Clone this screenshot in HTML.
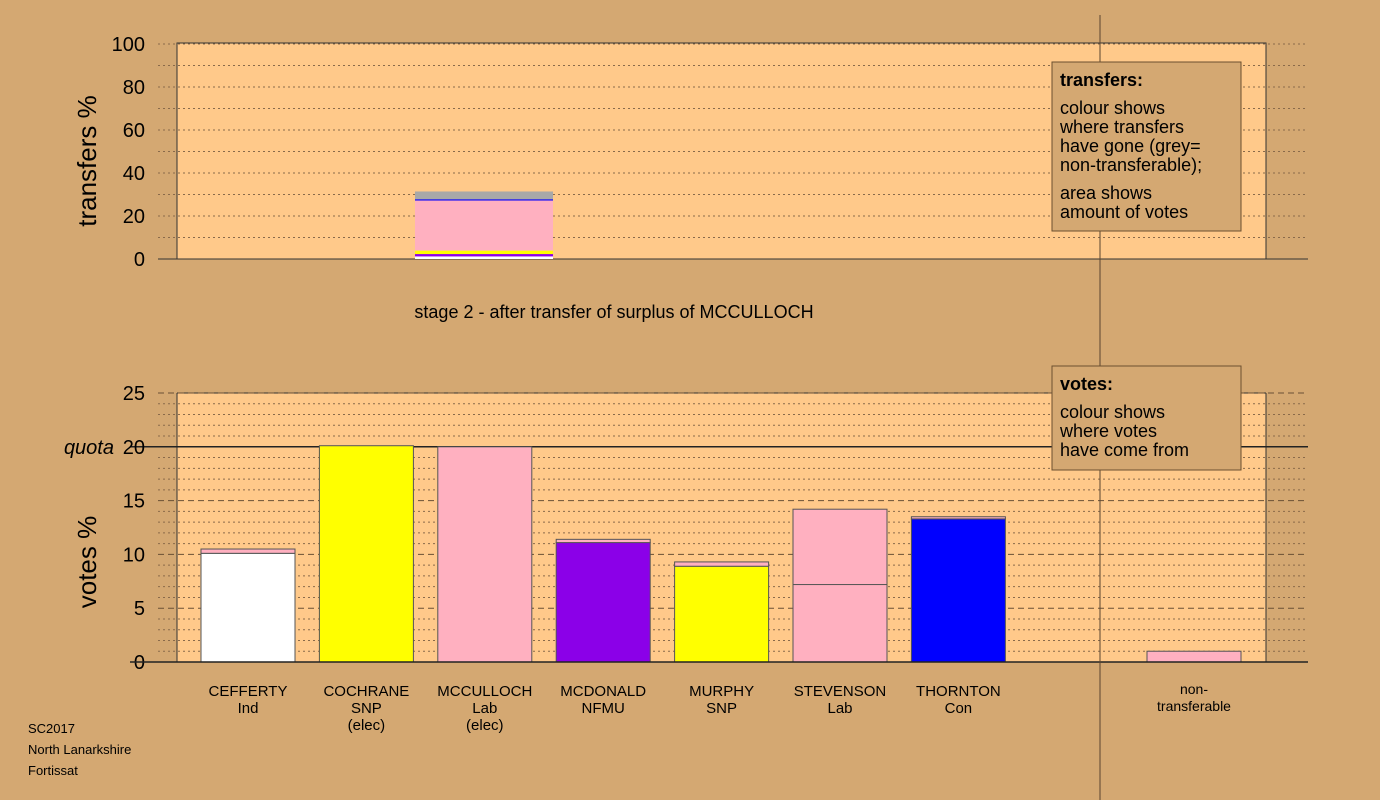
<!DOCTYPE html>
<html><head><meta charset="utf-8"><style>
body{margin:0;background:#d4a872;}
svg{display:block;font-family:"Liberation Sans",sans-serif;}
</style></head><body>
<svg id="c" width="1380" height="800" xmlns="http://www.w3.org/2000/svg">
<rect width="1380" height="800" fill="#d4a872"/>
<g id="topG"></g>
<g id="botG"></g>
<text x="614" y="318" font-size="18" text-anchor="middle" fill="#000">stage 2 - after transfer of surplus of MCCULLOCH</text>
<text x="96" y="161" font-size="26" text-anchor="middle" transform="rotate(-90 96 161)">transfers %</text>
<text x="96" y="562" font-size="26" text-anchor="middle" transform="rotate(-90 96 562)">votes %</text>
<text x="28" y="733" font-size="13">SC2017</text>
<text x="28" y="754" font-size="13">North Lanarkshire</text>
<text x="28" y="775" font-size="13">Fortissat</text>
<line x1="1100" y1="15" x2="1100" y2="800" stroke="#5a4530" stroke-width="1"/>
<g>
<rect x="1052" y="62" width="189" height="169" fill="#d4a872" stroke="#6b5030"/>
<text x="1060" y="86" font-size="18" font-weight="bold">transfers:</text>
<text font-size="18"><tspan x="1060" y="114">colour shows</tspan><tspan x="1060" y="133">where transfers</tspan><tspan x="1060" y="152">have gone (grey=</tspan><tspan x="1060" y="171">non-transferable);</tspan><tspan x="1060" y="199">area shows</tspan><tspan x="1060" y="218">amount of votes</tspan></text>
</g>
<g id="vleg"></g>
</svg>
<script>
const topTicks=[0,20,40,60,80,100];
const transferColors=["#ffffff","#8b00e8","#ffff00","#ffb0c0","#0000ff","#a8a8a8"];
const transferValues=[1.2,1.1,1.6,23.3,0.6,3.6];
const candidates=["CEFFERTY","COCHRANE","MCCULLOCH","MCDONALD","MURPHY","STEVENSON","THORNTON"];
const parties=["Ind","SNP","Lab","NFMU","SNP","Lab","Con"];
const notes=["","(elec)","(elec)","","","",""];
const baseColors=["#ffffff","#ffff00","#ffb0c0","#8b00e8","#ffff00","#ffb0c0","#0000ff"];
const baseVotes=[10.1,20.1,20.0,11.1,8.9,7.2,13.3];
const transferVotes=[0.4,0,0,0.3,0.4,7.0,0.2];
const nonTransferable=1.0;
const botTicks=[0,5,10,15,20,25];
const NS="http://www.w3.org/2000/svg";
function mk(p,t,a){const e=document.createElementNS(NS,t);for(const k in a)e.setAttribute(k,a[k]);p.appendChild(e);return e;}
const topG=document.getElementById('topG'),botG=document.getElementById('botG');
const yT=v=>259-v*2.15, yB=v=>662-v*(269/25);
// top panel
let r=mk(topG,'rect',{x:177,y:43,width:1089,height:216,fill:'#ffc98a',stroke:'#333'});


for(let v=10;v<=100;v+=10){let l=mk(topG,'line',{x1:158,x2:1308,y1:yT(v),y2:yT(v),stroke:'#8a6a4a','stroke-dasharray':'2 3'});

}
mk(topG,'line',{x1:158,x2:1308,y1:259,y2:259,stroke:'#333'});
topTicks.forEach(v=>{let t=mk(topG,'text',{x:145,y:yT(v)+7,'font-size':20,'text-anchor':'end'});t.textContent=v;

});
let acc=0;
transferValues.forEach((v,i)=>{let b=mk(topG,'rect',{x:415,width:138,y:yT(acc+v),height:v*2.15,fill:transferColors[i]});

acc+=v;});
// bottom panel
r=mk(botG,'rect',{x:177,y:yB(25),width:1089,height:yB(0)-yB(25),fill:'#ffc98a'});


mk(botG,'line',{x1:177,x2:177,y1:yB(25),y2:yB(0),stroke:'#333'});
mk(botG,'line',{x1:1266,x2:1266,y1:yB(25),y2:yB(0),stroke:'#333'});
mk(botG,'line',{x1:177,x2:1266,y1:yB(25),y2:yB(25),stroke:'#333'});
for(let v=1;v<=25;v++){if(v==20)continue;const maj=v%5==0;
let l=mk(botG,'line',{x1:158,x2:1308,y1:yB(v),y2:yB(v),stroke:maj?'#6a5035':'#8a6a4a','stroke-dasharray':maj?'6 4':'2 3'});

}
let q=mk(botG,'line',{x1:130,x2:1308,y1:yB(20),y2:yB(20),stroke:'#222','stroke-width':1.5});


botTicks.forEach(v=>{let t=mk(botG,'text',{x:145,y:yB(v)+7,'font-size':20,'text-anchor':'end'});t.textContent=v;

});
let qt=mk(botG,'text',{x:114,y:yB(20)+7,'font-size':20,'text-anchor':'end','font-style':'italic'});qt.textContent='quota';


candidates.forEach((c,i)=>{const x=201+i*118.4;
let b=mk(botG,'rect',{x:x,width:94,y:yB(baseVotes[i]),height:yB(0)-yB(baseVotes[i]),fill:baseColors[i],stroke:'#555'});


if(transferVotes[i]>0){let t=mk(botG,'rect',{x:x,width:94,y:yB(baseVotes[i]+transferVotes[i]),height:transferVotes[i]*269/25,fill:'#ffb0c0',stroke:'#555'});

}
[c,parties[i],notes[i]].forEach((s,j)=>{if(!s)return;let t=mk(botG,'text',{x:x+47,y:696+j*17,'font-size':15,'text-anchor':'middle'});t.textContent=s;

});});
let nt=mk(botG,'rect',{x:1147,width:94,y:yB(nonTransferable),height:yB(0)-yB(nonTransferable),fill:'#ffb0c0',stroke:'#555'});


["non-","transferable"].forEach((s,j)=>{let t=mk(botG,'text',{x:1194,y:694+j*17,'font-size':14,'text-anchor':'middle'});t.textContent=s;

});
mk(botG,'line',{x1:130,x2:1308,y1:662,y2:662,stroke:'#222','stroke-width':1.5});
// votes legend
const vl=document.getElementById('vleg');
mk(vl,'rect',{x:1052,y:366,width:189,height:104,fill:'#d4a872',stroke:'#6b5030'});
[["votes:",390,true],["colour shows",418],["where votes",437],["have come from",456]].forEach(a=>{let t=mk(vl,'text',{x:1060,y:a[1],'font-size':18,'font-weight':a[2]?'bold':'normal'});t.textContent=a[0];});
</script>
</body></html>
